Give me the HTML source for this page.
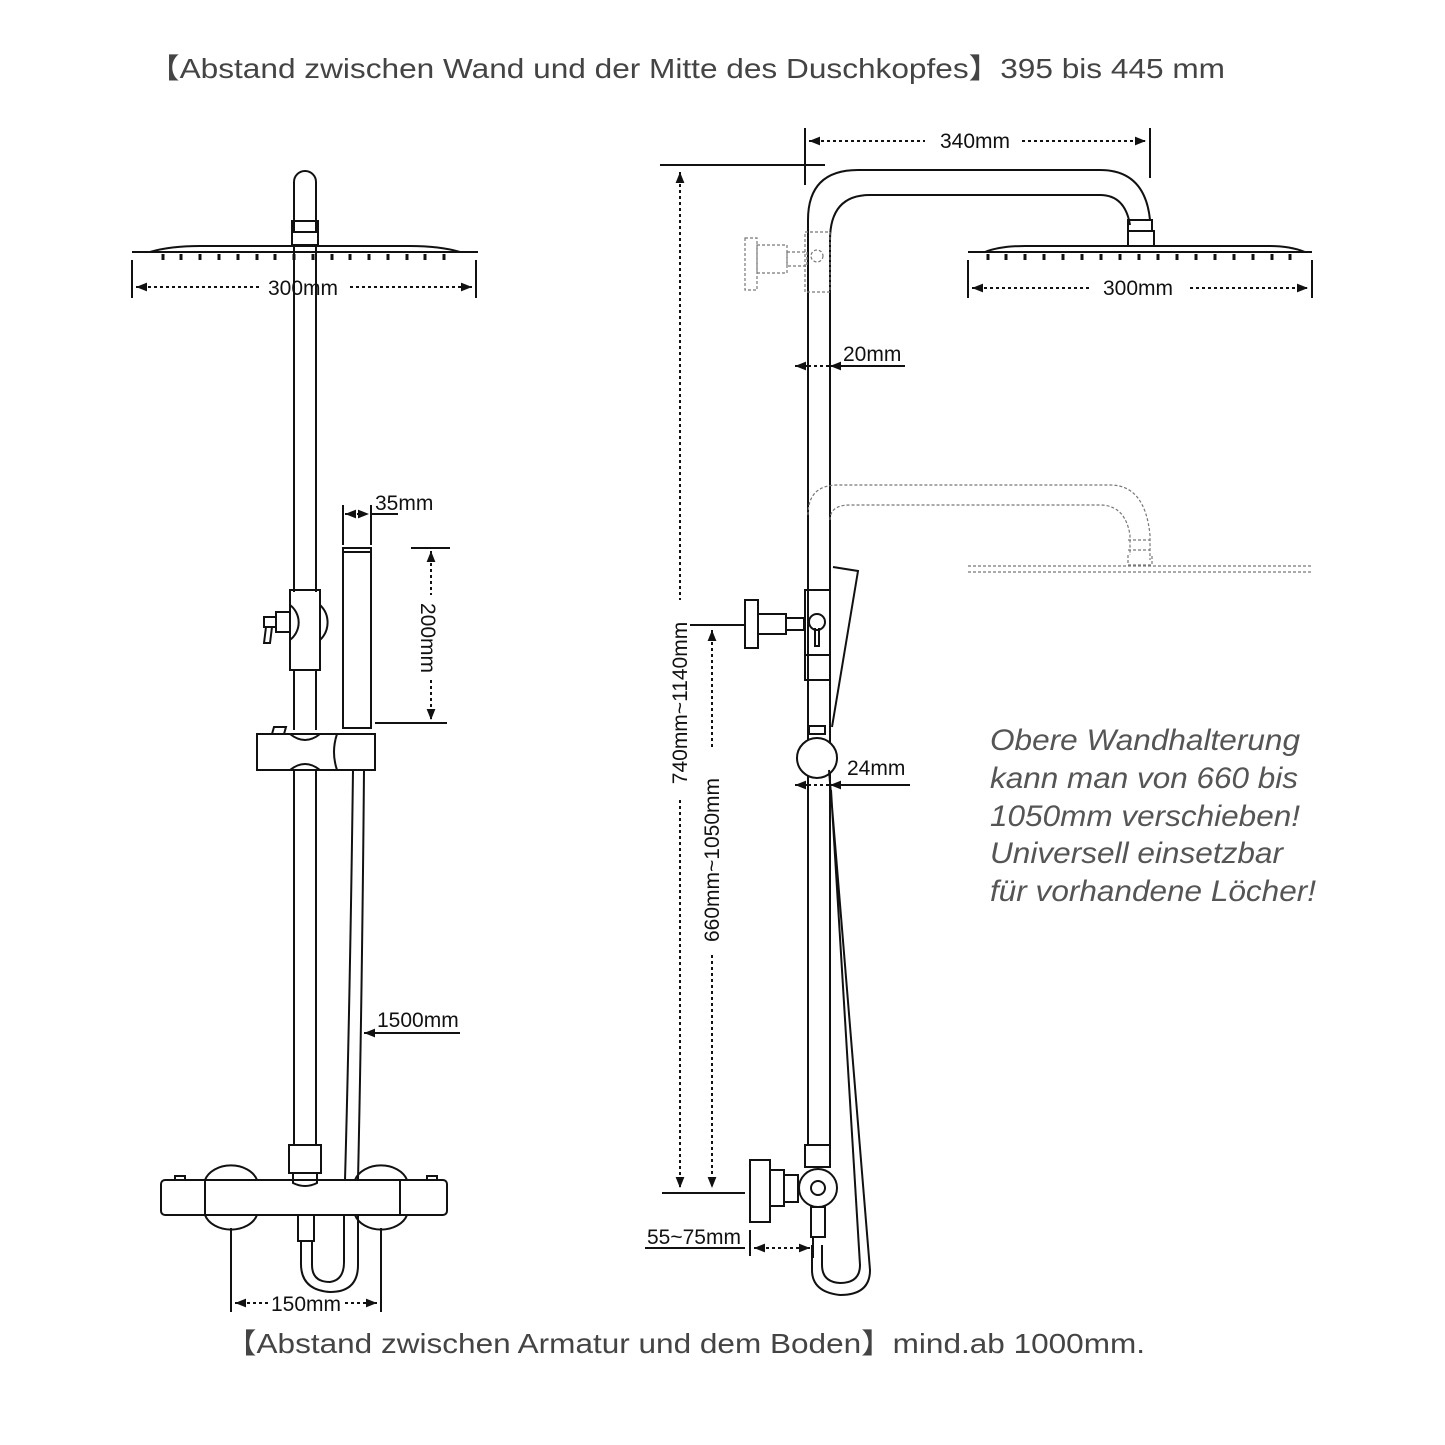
<!DOCTYPE html>
<html><head><meta charset="utf-8"><style>
body{margin:0;background:#fff}
svg{display:block}
text{font-family:"Liberation Sans",sans-serif;fill:#111}
</style></head><body>
<svg width="1445" height="1445" viewBox="0 0 1445 1445" xmlns="http://www.w3.org/2000/svg">
<defs>
<marker id="a" viewBox="0 0 10 10" refX="10" refY="5" markerWidth="5.5" markerHeight="5.5" orient="auto-start-reverse"><path d="M0,1L10,5L0,9z" fill="#111"/></marker>
</defs>
<text x="148" y="78" font-size="28" textLength="1077" lengthAdjust="spacingAndGlyphs" style="fill:#444">【Abstand zwischen Wand und der Mitte des Duschkopfes】395 bis 445 mm</text>
<text x="225" y="1353" font-size="28" textLength="920" lengthAdjust="spacingAndGlyphs" style="fill:#444">【Abstand zwischen Armatur und dem Boden】mind.ab 1000mm.</text>

<g fill="none" stroke="#111" stroke-width="2">
<!-- LEFT FIGURE -->
<path d="M294,232V182a11,11 0 0 1 22,0V232"/>
<rect x="292" y="221" width="26" height="11"/>
<rect x="292" y="232" width="26" height="13"/>
<path d="M132,252H478 M150,252Q170,246 200,246H410Q440,246 460,252"/>
<line x1="294" y1="245" x2="294" y2="592"/><line x1="316" y1="245" x2="316" y2="592"/>
<g stroke-width="3">
<path d="M163,254v6M181,254v6M200,254v6M219,254v6M238,254v6M257,254v6M275,254v6M294,254v6M313,254v6M332,254v6M350,254v6M369,254v6M388,254v6M407,254v6M425,254v6M444,254v6"/>
</g>
<line x1="132" y1="260" x2="132" y2="298"/><line x1="476" y1="260" x2="476" y2="298"/>
<line x1="136" y1="287" x2="262" y2="287" stroke-dasharray="3,3" marker-start="url(#a)"/>
<line x1="350" y1="287" x2="472" y2="287" stroke-dasharray="3,3" marker-end="url(#a)"/>
<!-- diverter left -->
<path d="M290,605A22,22 0 0 1 290,640 M320,605A24,24 0 0 1 320,640"/>
<rect x="290" y="590" width="30" height="80"/>
<path d="M276,612h14v20h-14z M264,617h12v10h-12z M266,627l-2,16h6l2,-16"/>
<line x1="294" y1="670" x2="294" y2="730"/><line x1="316" y1="670" x2="316" y2="730"/>
<!-- hand shower -->
<rect x="343" y="548" width="28" height="180"/>
<line x1="343" y1="552" x2="371" y2="552"/>
<line x1="343" y1="505" x2="343" y2="545"/><line x1="371" y1="505" x2="371" y2="545"/>
<line x1="345" y1="514" x2="369" y2="514" stroke-dasharray="3,3" marker-start="url(#a)" marker-end="url(#a)"/>
<line x1="371" y1="514" x2="398" y2="514"/>
<line x1="411" y1="548" x2="450" y2="548"/><line x1="375" y1="723" x2="447" y2="723"/>
<line x1="431" y1="551" x2="431" y2="595" stroke-dasharray="3,3" marker-start="url(#a)"/>
<line x1="431" y1="680" x2="431" y2="720" stroke-dasharray="3,3" marker-end="url(#a)"/>
<!-- slider -->
<path d="M257,734H375V770H257Z M290,734Q305,746 320,734 M290,770Q305,758 320,770 M337,734Q331,752 337,770"/>
<path d="M272,734l2,-7h12l-2,7"/>
<line x1="294" y1="770" x2="294" y2="1145"/><line x1="316" y1="770" x2="316" y2="1145"/>
<!-- hose left -->
<path d="M353,770Q350,1000 345,1180 M364,770Q362,1000 358,1180"/>
<path d="M344,1215V1262Q344,1280 330,1282Q312,1282 312,1265V1240 M358,1215V1265Q358,1292 330,1292Q300,1290 301,1262V1240"/>
<rect x="298" y="1215" width="16" height="26"/>
<!-- body -->
<rect x="289" y="1145" width="32" height="28"/>
<path d="M293,1173v10q12,6 24,0v-10"/>
<path d="M205,1180a27,20 0 0 1 52,0 M205,1215a27,20 0 0 0 52,0 M355,1180a27,20 0 0 1 52,0 M355,1215a27,20 0 0 0 52,0"/>
<rect x="161" y="1180" width="286" height="35" rx="4"/>
<line x1="205" y1="1180" x2="205" y2="1215"/><line x1="400" y1="1180" x2="400" y2="1215"/>
<path d="M175,1180v-4h10v4 M427,1180v-4h10v4"/>
<line x1="231" y1="1228" x2="231" y2="1312"/><line x1="381" y1="1228" x2="381" y2="1312"/>
<line x1="235" y1="1303" x2="268" y2="1303" stroke-dasharray="3,3" marker-start="url(#a)"/>
<line x1="345" y1="1303" x2="377" y2="1303" stroke-dasharray="3,3" marker-end="url(#a)"/>
<line x1="364" y1="1033" x2="460" y2="1033" marker-start="url(#a)"/>

<!-- RIGHT FIGURE -->
<path d="M808,1145V220Q808,170 858,170H1100Q1145,170 1150,220"/>
<path d="M830,1145V240Q830,195 870,195H1100Q1125,195 1130,225"/>
<rect x="1128" y="220" width="24" height="11"/>
<rect x="1128" y="231" width="26" height="15"/>
<path d="M968,252H1312 M985,252Q1000,246 1025,246H1270Q1290,246 1305,252"/>
<g stroke-width="3"><path d="M988,254v6M1006,254v6M1025,254v6M1044,254v6M1063,254v6M1082,254v6M1101,254v6M1120,254v6M1139,254v6M1158,254v6M1177,254v6M1196,254v6M1215,254v6M1234,254v6M1253,254v6M1272,254v6M1290,254v6"/></g>
<line x1="805" y1="128" x2="805" y2="185"/><line x1="1150" y1="128" x2="1150" y2="178"/>
<line x1="809" y1="141" x2="925" y2="141" stroke-dasharray="3,3" marker-start="url(#a)"/>
<line x1="1022" y1="141" x2="1146" y2="141" stroke-dasharray="3,3" marker-end="url(#a)"/>
<line x1="660" y1="165" x2="825" y2="165"/>
<line x1="968" y1="260" x2="968" y2="298"/><line x1="1312" y1="260" x2="1312" y2="298"/>
<line x1="972" y1="288" x2="1090" y2="288" stroke-dasharray="3,3" marker-start="url(#a)"/>
<line x1="1190" y1="288" x2="1308" y2="288" stroke-dasharray="3,3" marker-end="url(#a)"/>
<line x1="795" y1="366" x2="808" y2="366" marker-start="url(#a)"/>
<line x1="808" y1="366" x2="830" y2="366" stroke-dasharray="3,3"/>
<line x1="830" y1="366" x2="905" y2="366" marker-start="url(#a)"/>
<!-- dashed ghosts -->
<g stroke="#777" stroke-width="1.2" stroke-dasharray="3,2">
<rect x="745" y="238" width="12" height="52"/><rect x="757" y="245" width="30" height="28"/><rect x="787" y="252" width="20" height="14"/>
<rect x="805" y="232" width="25" height="60"/><circle cx="817" cy="256" r="6"/>
<path d="M808,515Q808,485 838,485H1110Q1145,485 1150,535V560 M830,520Q830,505 850,505H1100Q1125,505 1130,535V555 M1128,540h22M1128,550h22 M1128,555v10h24v-10 M968,566H1312 M968,572H1312"/>
</g>
<!-- upper bracket and diverter -->
<rect x="745" y="600" width="13" height="48"/>
<rect x="758" y="614" width="28" height="20"/><rect x="786" y="618" width="18" height="12"/>
<rect x="805" y="590" width="25" height="90"/><line x1="805" y1="655" x2="830" y2="655"/>
<circle cx="817" cy="622" r="8"/><path d="M815,628v18h4v-18"/>
<path d="M833,567L858,571L832,727"/>
<rect x="809" y="726" width="16" height="8"/>
<circle cx="817" cy="758" r="20" fill="#fff"/>
<line x1="795" y1="785" x2="808" y2="785" marker-start="url(#a)"/>
<line x1="808" y1="785" x2="830" y2="785" stroke-dasharray="3,3"/>
<line x1="830" y1="785" x2="910" y2="785" marker-start="url(#a)"/>
<!-- hose right -->
<path d="M829,770L870,1270Q870,1295 840,1295Q812,1292 812,1270V1245 M831,790L860,1265Q860,1283 840,1283Q822,1282 822,1265V1245"/>
<!-- lower elbow -->
<rect x="805" y="1145" width="25" height="22"/>
<rect x="750" y="1160" width="20" height="62"/>
<rect x="770" y="1170" width="14" height="36"/><rect x="784" y="1175" width="14" height="27"/>
<circle cx="818" cy="1188" r="19" fill="#fff"/><circle cx="818" cy="1188" r="7"/>
<rect x="811" y="1207" width="14" height="30"/>
<!-- verticals -->
<line x1="680" y1="172" x2="680" y2="600" stroke-dasharray="3,3" marker-start="url(#a)"/>
<line x1="680" y1="800" x2="680" y2="1188" stroke-dasharray="3,3" marker-end="url(#a)"/>
<line x1="712" y1="630" x2="712" y2="750" stroke-dasharray="3,3" marker-start="url(#a)"/>
<line x1="712" y1="955" x2="712" y2="1188" stroke-dasharray="3,3" marker-end="url(#a)"/>
<line x1="690" y1="625" x2="745" y2="625"/>
<line x1="662" y1="1193" x2="745" y2="1193"/>
<line x1="750" y1="1230" x2="750" y2="1256"/>
<line x1="645" y1="1248" x2="745" y2="1248"/>
<line x1="754" y1="1248" x2="810" y2="1248" stroke-dasharray="3,3" marker-start="url(#a)" marker-end="url(#a)"/>
<line x1="813" y1="1238" x2="813" y2="1258"/>
</g>
<g font-size="21">
<text x="268" y="295">300mm</text>
<text x="1103" y="295">300mm</text>
<text x="940" y="148">340mm</text>
<text x="375" y="510">35mm</text>
<text x="843" y="361">20mm</text>
<text x="847" y="775">24mm</text>
<text x="377" y="1027">1500mm</text>
<text x="271" y="1311">150mm</text>
<text x="647" y="1244">55~75mm</text>
<text transform="translate(421,638) rotate(90)" text-anchor="middle">200mm</text>
<text transform="translate(687,703) rotate(-90)" text-anchor="middle">740mm~1140mm</text>
<text transform="translate(719,860) rotate(-90)" text-anchor="middle">660mm~1050mm</text>
</g>
<g font-size="30" font-style="italic">
<text x="990" y="750" textLength="310" lengthAdjust="spacingAndGlyphs" style="fill:#555">Obere Wandhalterung</text>
<text x="990" y="788" textLength="308" lengthAdjust="spacingAndGlyphs" style="fill:#555">kann man von 660 bis</text>
<text x="990" y="826" textLength="310" lengthAdjust="spacingAndGlyphs" style="fill:#555">1050mm verschieben!</text>
<text x="990" y="863" textLength="293" lengthAdjust="spacingAndGlyphs" style="fill:#555">Universell einsetzbar</text>
<text x="990" y="901" textLength="326" lengthAdjust="spacingAndGlyphs" style="fill:#555">für vorhandene Löcher!</text>
</g>
</svg>
</body></html>
